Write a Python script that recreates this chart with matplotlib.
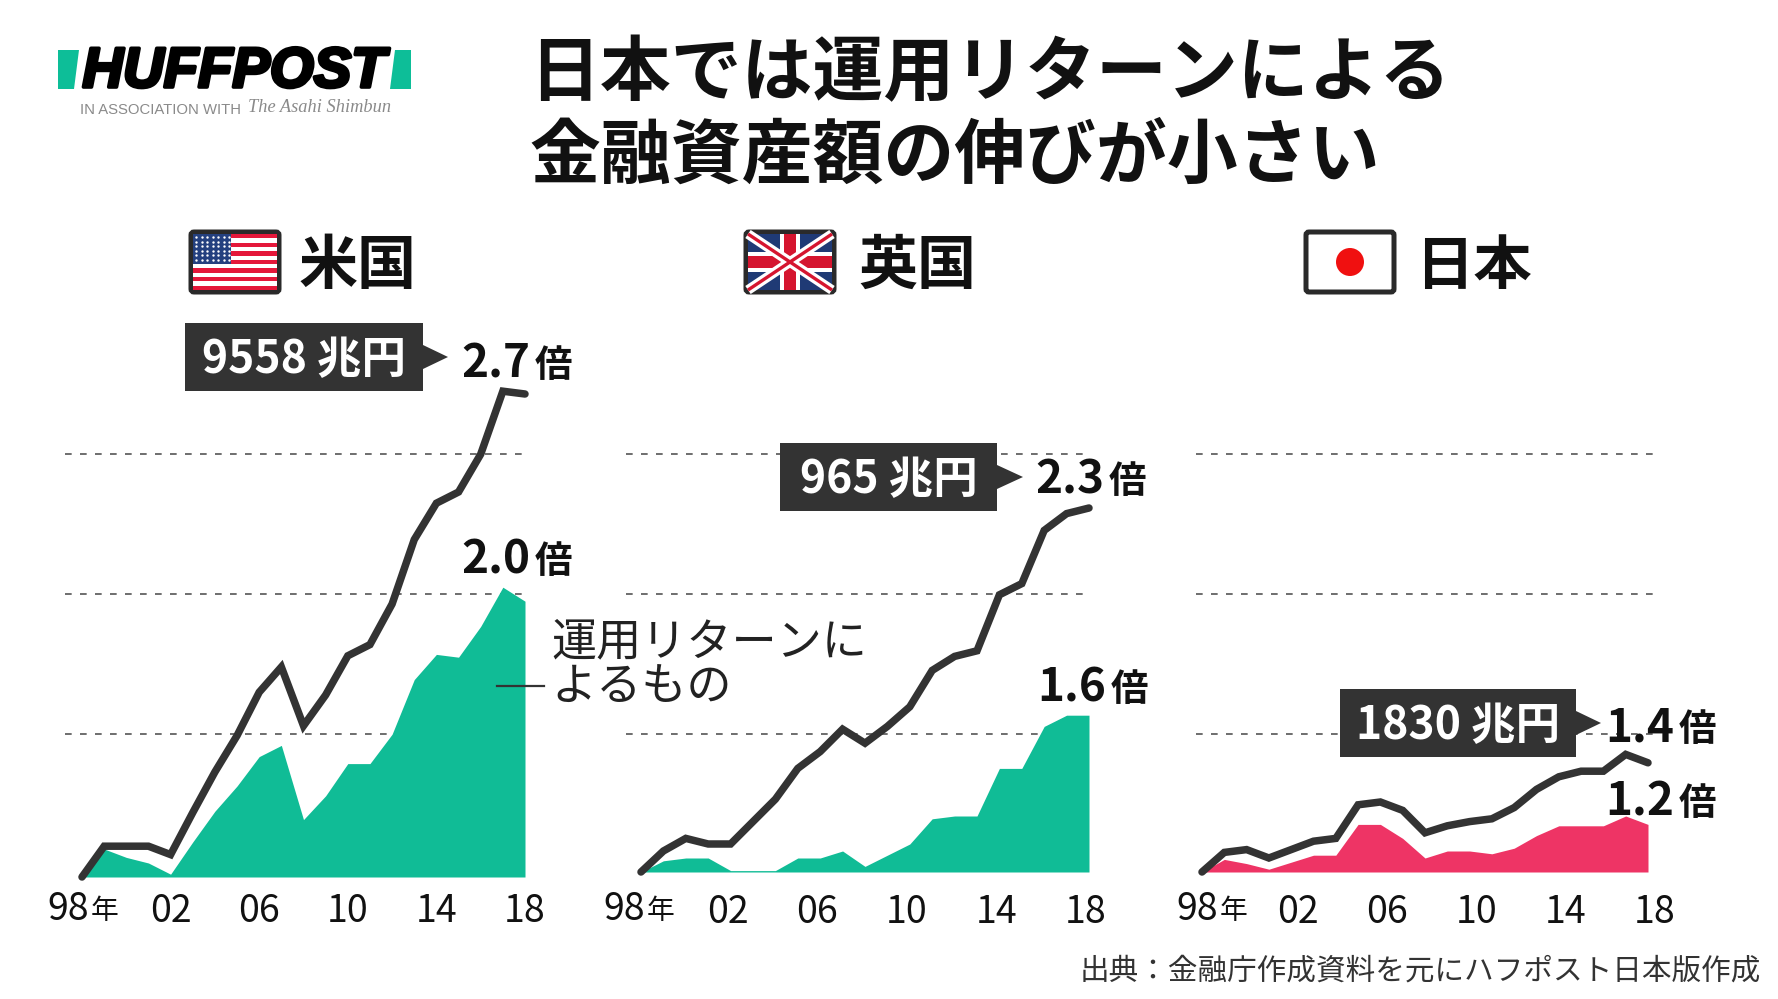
import matplotlib
matplotlib.use("Agg")
import matplotlib.pyplot as plt
import matplotlib.patheffects as pe
from matplotlib.patches import Polygon, Rectangle, FancyBboxPatch, Circle
from matplotlib.transforms import ScaledTranslation
import numpy as np

plt.rcParams['font.family'] = ['Noto Sans CJK JP', 'DejaVu Sans']

years = list(range(1998, 2019))
tick_years = [2002, 2006, 2010, 2014, 2018]
tick_labels = ['02', '06', '10', '14', '18']
us_grid = [1.512, 2.012, 2.512]
uk_grid = [1.492, 1.992, 2.492]
jp_grid = [1.492, 1.992, 2.492]

us_total = [1.00, 1.11, 1.11, 1.11, 1.08, 1.23, 1.375, 1.505, 1.66, 1.75, 1.54,
            1.65, 1.79, 1.83, 1.975, 2.205, 2.335, 2.375, 2.51, 2.735, 2.725]
us_return = [1.00, 1.10, 1.07, 1.05, 1.01, 1.125, 1.235, 1.325, 1.43, 1.47, 1.205,
             1.29, 1.405, 1.405, 1.51, 1.705, 1.795, 1.785, 1.895, 2.035, 1.985]
uk_total = [1.00, 1.075, 1.12, 1.10, 1.10, 1.18, 1.26, 1.37, 1.43, 1.51, 1.46,
            1.52, 1.59, 1.72, 1.77, 1.79, 1.99, 2.03, 2.22, 2.28, 2.30]
uk_return = [1.00, 1.04, 1.05, 1.05, 1.005, 1.005, 1.005, 1.05, 1.05, 1.075, 1.02,
             1.06, 1.10, 1.19, 1.20, 1.20, 1.37, 1.37, 1.52, 1.56, 1.56]
jp_total = [1.00, 1.07, 1.08, 1.05, 1.08, 1.11, 1.12, 1.24, 1.25, 1.22, 1.14,
            1.165, 1.18, 1.19, 1.23, 1.295, 1.34, 1.36, 1.36, 1.42, 1.39]
jp_return = [1.00, 1.045, 1.03, 1.01, 1.035, 1.06, 1.06, 1.17, 1.17, 1.12, 1.05,
             1.075, 1.075, 1.065, 1.085, 1.13, 1.165, 1.165, 1.165, 1.20, 1.17]

DARK = '#333333'
GREEN = '#10BC96'
PINK = '#EE3465'
W, H = 1778, 999

fig = plt.figure(figsize=(W / 100, H / 100), dpi=100, facecolor='white')


def panel(left, right, base_y, total, ret, color, grid, grid_x, pad, label_dx):
    # 1 unit of multiple = 280 px, 1 year = (right-left)/20 px
    top_y = 340
    ax = fig.add_axes([left / W, 1 - base_y / H, (right - left) / W, (base_y - top_y) / H])
    ax.set_xlim(1998, 2018)
    ax.set_ylim(1, 1 + (base_y - top_y) / 280)
    ax.patch.set_alpha(0)
    for s in ax.spines.values():
        s.set_visible(False)
    ax.set_yticks([])
    ax.set_xticks([1998] + tick_years)
    ax.set_xticklabels([''] + tick_labels, fontsize=27, color='#111111')
    ax.tick_params(axis='x', length=0, pad=pad)
    for lab in ax.get_xticklabels():
        lab.set_transform(lab.get_transform() + ScaledTranslation(label_dx / 100, 0, fig.dpi_scale_trans))
    ax.hlines(grid, grid_x[0], grid_x[1], color='#555555', lw=1.2, linestyle=(0, (4, 5)), clip_on=False, zorder=1)
    ax.fill_between(years, ret, 1, color=color, lw=0, zorder=2, clip_on=False)
    ax.plot(years, total, color=DARK, lw=5.4, solid_joinstyle='miter', solid_capstyle='round', clip_on=False, zorder=3)
    return ax


panel(82, 525, 877, us_total, us_return, GREEN, us_grid, (1997.25, 2018), 11, 0)
panel(641, 1089, 872, uk_total, uk_return, GREEN, uk_grid, (1997.35, 2017.95), 15, -3)
panel(1202, 1648, 872, jp_total, jp_return, PINK, jp_grid, (1997.75, 2018.35), 15, 7)

# overlay in image pixels for title, logo, flags, callouts
ov = fig.add_axes([0, 0, 1, 1], zorder=5)
ov.set_xlim(0, W)
ov.set_ylim(H, 0)
ov.axis('off')

ov.text(529, 74, '日本では運用リターンによる', fontsize=51, fontweight='bold', va='center', color='#111111')
ov.text(529, 157, '金融資産額の伸びが小さい', fontsize=51, fontweight='bold', va='center', color='#111111')

# logo
ov.add_patch(Polygon([(58, 50), (79, 50), (74, 89), (58, 89)], color='#0DBE98', lw=0))
ov.add_patch(Polygon([(395, 50), (411, 50), (411, 89), (390, 89)], color='#0DBE98', lw=0))
ov.text(234, 73, 'HUFFPOST', fontsize=40.5, fontweight='bold', style='italic', family='Liberation Sans',
        ha='center', va='center', color='black',
        path_effects=[pe.withStroke(linewidth=2.6, foreground='black')])
ov.text(80, 110, 'IN ASSOCIATION WITH', fontsize=10.7, family='Liberation Sans', va='center', color='#8a8a8a')
ov.text(248, 107, 'The Asahi Shimbun', fontsize=13.2, family='Liberation Serif', style='italic', va='center', color='#8a8a8a')


def flag_frame(x0, y0):
    ov.add_patch(FancyBboxPatch((x0 + 3, y0 + 3), 88, 60, boxstyle='round,pad=0,rounding_size=3',
                                fc='white', ec='#2a2a2a', lw=3.6))


# US flag
x0, y0 = 188, 229
flag_frame(x0, y0)
for i in range(13):
    c = '#E4173A' if i % 2 == 0 else 'white'
    ov.add_patch(Rectangle((x0 + 5, y0 + 5 + i * 56 / 13), 84, 56 / 13, color=c, lw=0))
ov.add_patch(Rectangle((x0 + 5, y0 + 5), 38, 30, color='#24407F', lw=0))
sx, sy = np.meshgrid(np.arange(x0 + 8, x0 + 42, 5.5), np.arange(y0 + 8, y0 + 34, 4.6))
ov.scatter(sx, sy, s=3, color='white', lw=0, zorder=3)

# UK flag
x0 = 743
flag_frame(x0, y0)
fx0, fx1, fy0, fy1 = x0 + 5, x0 + 89, y0 + 5, y0 + 61
ov.add_patch(Rectangle((fx0, fy0), 84, 56, color='#1F3A75', lw=0))
ov.plot([fx0, fx1], [fy0, fy1], color='white', lw=7, solid_capstyle='butt')
ov.plot([fx0, fx1], [fy1, fy0], color='white', lw=7, solid_capstyle='butt')
ov.plot([fx0, fx1], [fy0, fy1], color='#D5152F', lw=2.4, solid_capstyle='butt')
ov.plot([fx0, fx1], [fy1, fy0], color='#D5152F', lw=2.4, solid_capstyle='butt')
ov.add_patch(Rectangle((x0 + 37, fy0), 20, 56, color='white', lw=0))
ov.add_patch(Rectangle((fx0, y0 + 23), 84, 20, color='white', lw=0))
ov.add_patch(Rectangle((x0 + 41, fy0), 12, 56, color='#D5152F', lw=0))
ov.add_patch(Rectangle((fx0, y0 + 27), 84, 12, color='#D5152F', lw=0))

# JP flag
x0 = 1303
flag_frame(x0, y0)
ov.add_patch(Circle((x0 + 47, y0 + 33), 14, color='#F01010', lw=0))

ov.text(299, 267, '米国', fontsize=42.5, fontweight='bold', va='center', color='#111111')
ov.text(858, 267, '英国', fontsize=42.5, fontweight='bold', va='center', color='#111111')
ov.text(1415, 267, '日本', fontsize=42, fontweight='bold', va='center', color='#111111')


def callout(x0, x1, y0, y1, tip, text):
    ov.add_patch(Polygon([(x0, y0), (x1, y0), (x1, y0 + 22), (tip, (y0 + y1) / 2), (x1, y1 - 22), (x1, y1), (x0, y1)],
                         color=DARK, lw=0))
    ov.text((x0 + x1) / 2, (y0 + y1) / 2 + 3, text, fontsize=32, fontweight='bold', color='white', ha='center', va='center')


callout(185, 423, 323, 391, 448, '9558 兆円')
callout(780, 997, 443, 511, 1023, '965 兆円')
callout(1340, 1576, 689, 757, 1601, '1830 兆円')


def multiple(x, y, num):
    ov.text(x, y, num, fontsize=33, fontweight='bold', color='#111111', va='center')
    ov.text(x + 74, y + 1, '倍', fontsize=27, fontweight='bold', color='#111111', va='center')


multiple(461, 364, '2.7')
multiple(461, 561, '2.0')
multiple(1035, 480, '2.3')
multiple(1037, 689, '1.6')
multiple(1605, 728, '1.4')
multiple(1605, 802, '1.2')

# annotation for the return area
ov.text(551, 642, '運用リターンに', fontsize=32.5, va='center', color='#222222')
ov.text(551, 688, 'よるもの', fontsize=32.5, va='center', color='#222222')
ov.plot([497, 544], [686, 686], color='#333333', lw=1.6)

# 98年 tick labels, year sign is smaller than the digits
for x, y in [(47, 909), (603, 909), (1176, 909)]:
    ov.text(x, y, '98', fontsize=27, color='#111111', va='center')
    ov.text(x + 44, y + 2, '年', fontsize=20, color='#111111', va='center')

ov.text(1761, 971, '出典：金融庁作成資料を元にハフポスト日本版作成', fontsize=21.3, ha='right', va='center', color='#333333')

fig.savefig('out.png', dpi=100)
